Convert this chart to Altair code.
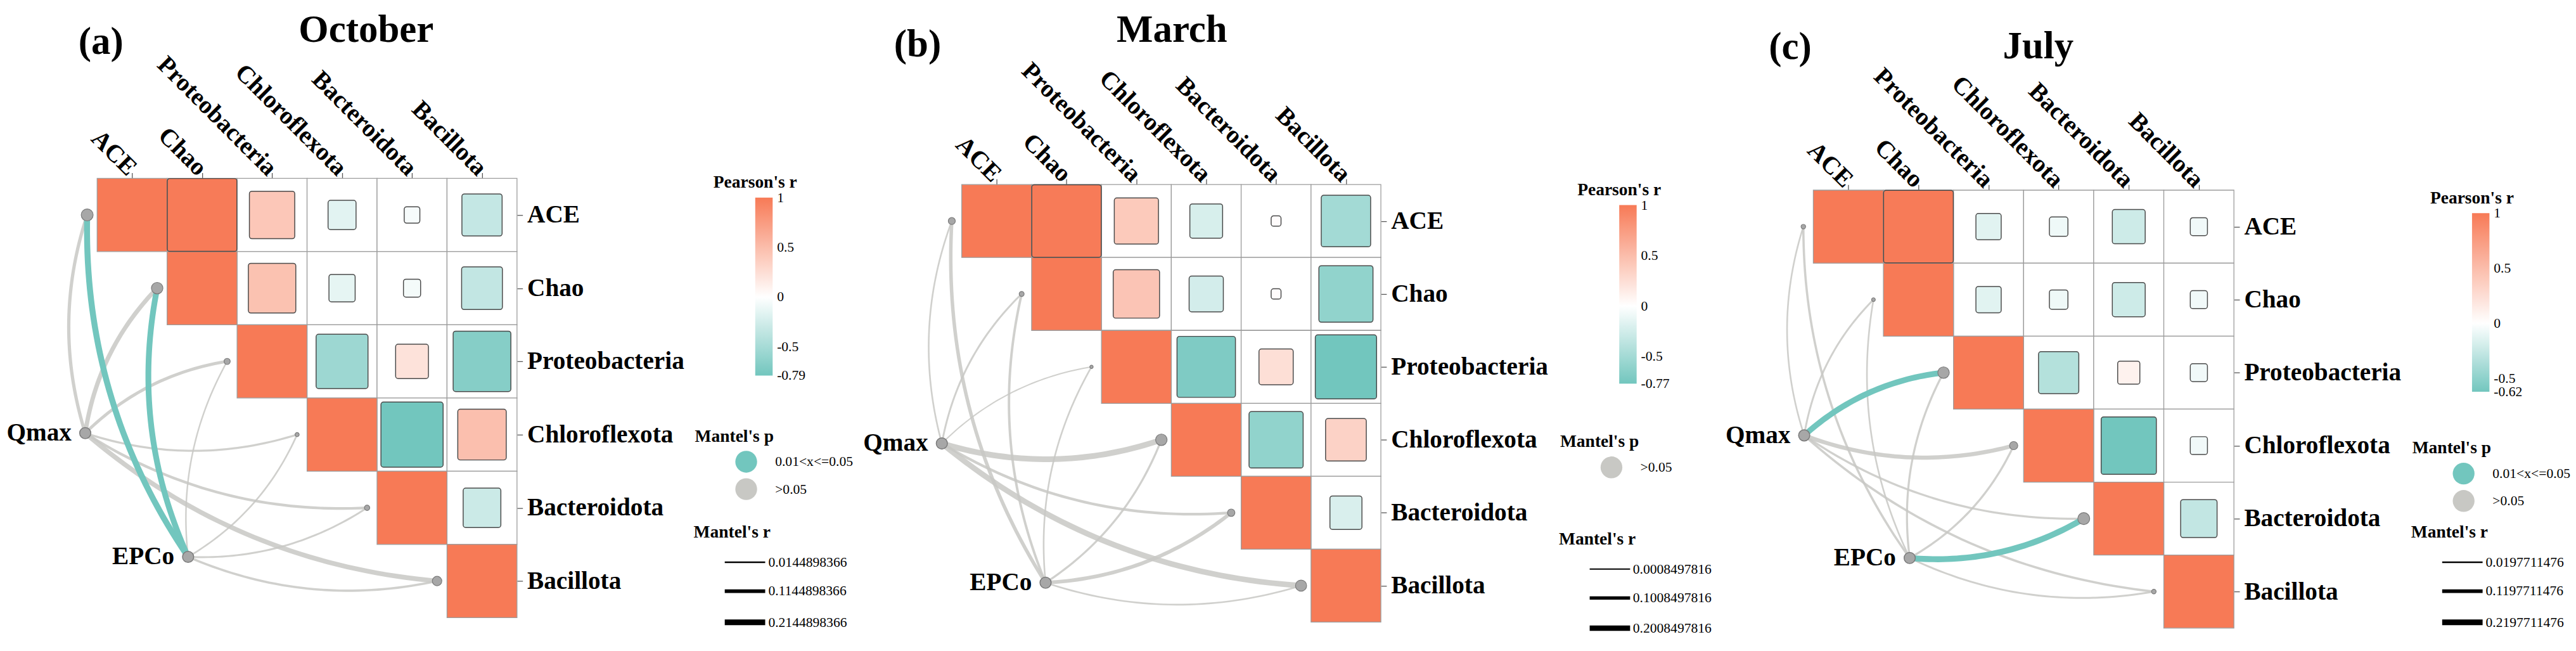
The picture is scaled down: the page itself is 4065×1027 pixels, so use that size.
import altair as alt
import numpy as np
import pandas as pd

# ---------------- data ----------------
taxa = ["ACE", "Chao", "Proteobacteria", "Chloroflexota", "Bacteroidota", "Bacillota"]
env_vars = ["Qmax", "EPCo"]
months = ["October", "March", "July"]
panel_tags = ["(a)", "(b)", "(c)"]
p_levels = ["0.01<x<=0.05", ">0.05"]

# Pearson's r, upper triangle, row i holds r(i, j) for j = i+1 .. 5
pearson_october = [
    [0.99, 0.42, -0.16, -0.05, -0.33],
    [0.46, -0.14, -0.06, -0.34],
    [-0.55, 0.22, -0.68],
    [-0.79, 0.48],
    [-0.29],
]
pearson_march = [
    [0.99, 0.40, -0.22, 0.02, -0.50],
    [0.44, -0.24, 0.02, -0.60],
    [-0.70, 0.24, -0.77],
    [-0.60, 0.34],
    [-0.21],
]
pearson_july = [
    [0.99, -0.13, -0.07, -0.22, -0.06],
    [-0.13, -0.07, -0.22, -0.06],
    [-0.33, 0.10, -0.06],
    [-0.62, -0.06],
    [-0.27],
]

# Mantel's r / p, per environmental variable, order of taxa
mantel_r_october_qmax = [0.10, 0.15, 0.09, 0.04, 0.07, 0.17]
mantel_r_october_epco = [0.23, 0.22, 0.0144898366, 0.02, 0.03, 0.05]
mantel_p_october_qmax = [">0.05", ">0.05", ">0.05", ">0.05", ">0.05", ">0.05"]
mantel_p_october_epco = ["0.01<x<=0.05", "0.01<x<=0.05", ">0.05", ">0.05", ">0.05", ">0.05"]

mantel_r_march_qmax = [0.02, 0.03, 0.0008497816, 0.22, 0.07, 0.21]
mantel_r_march_epco = [0.11, 0.06, 0.02, 0.04, 0.12, 0.02]
mantel_p_march_qmax = [">0.05", ">0.05", ">0.05", ">0.05", ">0.05", ">0.05"]
mantel_p_march_epco = [">0.05", ">0.05", ">0.05", ">0.05", ">0.05", ">0.05"]

mantel_r_july_qmax = [0.02, 0.03, 0.22, 0.14, 0.04, 0.05]
mantel_r_july_epco = [0.05, 0.0197711476, 0.04, 0.04, 0.23, 0.03]
mantel_p_july_qmax = [">0.05", ">0.05", "0.01<x<=0.05", ">0.05", ">0.05", ">0.05"]
mantel_p_july_epco = [">0.05", ">0.05", ">0.05", ">0.05", "0.01<x<=0.05", ">0.05"]

mantel_r_break_base = [0.0144898366, 0.0008497816, 0.0197711476]

PEARSON = [pearson_october, pearson_march, pearson_july]
MANTEL_R = [
    {"Qmax": mantel_r_october_qmax, "EPCo": mantel_r_october_epco},
    {"Qmax": mantel_r_march_qmax, "EPCo": mantel_r_march_epco},
    {"Qmax": mantel_r_july_qmax, "EPCo": mantel_r_july_epco},
]
MANTEL_P = [
    {"Qmax": mantel_p_october_qmax, "EPCo": mantel_p_october_epco},
    {"Qmax": mantel_p_march_qmax, "EPCo": mantel_p_march_epco},
    {"Qmax": mantel_p_july_qmax, "EPCo": mantel_p_july_epco},
]

# ---------------- styles / layout ----------------
SERIF = "Liberation Serif"
TEAL = "#72C6BE"
CORAL = "#F77A56"
GREY_LINE = "#C8C8C4"
GRID = "#9C9C9C"
SQUARE_EDGE = "#4A4A4A"
NODE_FILL = "#A7A7A7"
NODE_EDGE = "#7A7A7A"
SW_DOMAIN = [0, 0.25]
SW_RANGE = [2, 10.25]
NODE_GAP = 16
CURV = 0.16
PEAR_SHIFT = -31

LAYOUT = [
    dict(cw=112.5, ch=117.67, xmin=-1.3156, ymin=0.0, axis_off=0,
         env={"Qmax": (-0.17, 3.48), "EPCo": (1.30, 5.17)},
         title_dx=169, title_dy=52, tag=(154, -219),
         leg_pear=(1170, -7), leg_p=(1109, 401), leg_r=(1107, 555), grad=286),
    dict(cw=112.3, ch=117.2, xmin=-1.4604, ymin=-0.0853, axis_off=-10,
         env={"Qmax": (-0.285, 3.55), "EPCo": (1.20, 5.46)},
         title_dx=83, title_dy=48, tag=(93, -215),
         leg_pear=(1185, 5), leg_p=(1126, 410), leg_r=(1124, 566), grad=287),
    dict(cw=112.7, ch=117.3, xmin=-1.2866, ymin=-0.162, axis_off=-19,
         env={"Qmax": (-0.13, 3.36), "EPCo": (1.375, 5.04)},
         title_dx=96, title_dy=70, tag=(108, -211),
         leg_pear=(1168, 18), leg_p=(1108, 420), leg_r=(1106, 555), grad=287),
]

ticks = [i + 0.5 for i in range(6)]
label_expr = "[" + ",".join("'%s'" % t for t in taxa) + "][floor(datum.value)]"


def sw_of(r):
    return SW_RANGE[0] + (r - SW_DOMAIN[0]) / (SW_DOMAIN[1] - SW_DOMAIN[0]) * (SW_RANGE[1] - SW_RANGE[0])


def curve(a, b, side, n=40):
    a = np.array(a, float)
    b = np.array(b, float)
    d = b - a
    perp = np.array([d[1], -d[0]]) if side == "left" else np.array([-d[1], d[0]])
    c = (a + b) / 2 + CURV * perp
    t = np.linspace(0, 1, n)[:, None]
    return (1 - t) ** 2 * a + 2 * t * (1 - t) * c + t ** 2 * b


def panel(k):
    L = LAYOUT[k]
    cw, ch = L["cw"], L["ch"]
    pear = PEARSON[k]
    rmin = min(min(v) for v in pear)

    cell_rows = []
    for i in range(6):
        for j in range(i, 6):
            r = 1.0 if i == j else pear[i][j - i - 1]
            cell_rows.append({"row": i, "col": j, "x": j, "x2": j + 1, "y": i, "y2": i + 1,
                              "diag": i == j, "r": r})
    cells = pd.DataFrame(cell_rows)

    xs = alt.Scale(domain=[L["xmin"], 6], nice=False, zero=False)
    ys = alt.Scale(domain=[L["ymin"], 6], nice=False, zero=False, reverse=True)
    fill_scale = alt.Scale(domain=[rmin, 0, 1], range=[TEAL, "#FFFFFF", CORAL], interpolate="rgb")
    present = [p for p in p_levels if any(p in v for v in MANTEL_P[k].values())]
    col_scale = alt.Scale(domain=present, range=[TEAL if p == p_levels[0] else GREY_LINE for p in present])
    sw_scale = alt.Scale(domain=SW_DOMAIN, range=SW_RANGE)

    top_axis = alt.Axis(orient="top", values=ticks, labelExpr=label_expr, labelAngle=45,
                        labelAlign="right", labelBaseline="middle", labelFontSize=40, labelFont=SERIF,
                        labelFontWeight="bold", labelColor="black", tickSize=9, tickColor="#555555",
                        tickWidth=1.3, domain=False, grid=False, title=None, labelPadding=2,
                        offset=L["axis_off"], labelOverlap=False, labelFlush=False, labelBound=False,
                        labelLimit=0)
    right_axis = alt.Axis(orient="right", values=ticks, labelExpr=label_expr, labelFontSize=40,
                          labelFont=SERIF, labelFontWeight="bold", labelColor="black", labelAlign="left",
                          labelBaseline="middle", tickSize=9, tickColor="#555555", tickWidth=1.3,
                          domain=False, grid=False, title=None, labelPadding=7, labelOverlap=False,
                          labelFlush=False, labelLimit=0)

    def X(field):
        return alt.X(field, scale=xs, axis=top_axis)

    def Y(field):
        return alt.Y(field, scale=ys, axis=right_axis)

    pear_legend = alt.Legend(
        title="Pearson's r", orient="none", legendX=L["leg_pear"][0] + PEAR_SHIFT, legendY=L["leg_pear"][1],
        direction="vertical", gradientLength=L["grad"], gradientThickness=28, gradientStrokeWidth=0,
        values=[0.999, 0.5, 0, -0.5, rmin + 0.001],
        labelExpr="toString(round(datum.value * 100) / 100)", labelOverlap=False,
        titleFont=SERIF, titleFontSize=28, titleFontWeight="bold", titleColor="black",
        titleAnchor="start", titleAlign="center", titlePadding=10,
        labelFont=SERIF, labelFontSize=22, labelColor="black", labelOffset=7, padding=0)
    p_legend = alt.Legend(
        title="Mantel's p", orient="none", legendX=L["leg_p"][0], legendY=L["leg_p"][1],
        symbolType="circle", symbolSize=1225, symbolOffset=65, labelOffset=29, rowPadding=9,
        titlePadding=9, symbolOpacity=1, symbolStrokeWidth=0,
        titleFont=SERIF, titleFontSize=28, titleFontWeight="bold", titleColor="black",
        titleAnchor="start", titleAlign="left",
        labelFont=SERIF, labelFontSize=22, labelColor="black", padding=0)
    base = mantel_r_break_base[k]
    r_legend = alt.Legend(
        title="Mantel's r", orient="none", legendX=L["leg_r"][0], legendY=L["leg_r"][1],
        values=[base, base + 0.1, base + 0.2], format=".10f",
        symbolType="stroke", symbolSize=4225, symbolOffset=45, labelOffset=0,
        symbolStrokeColor="black", symbolOpacity=1, rowPadding=0, titlePadding=0,
        titleFont=SERIF, titleFontSize=28, titleFontWeight="bold", titleColor="black",
        titleAnchor="start", titleAlign="left",
        labelFont=SERIF, labelFontSize=22, labelColor="black", padding=0)

    # Mantel links
    erows, starts, nodes = [], [], []
    for env in env_vars:
        ex, ey = L["env"][env]
        for i, t in enumerate(taxa):
            tx, ty = i - NODE_GAP / cw, i + 0.5
            side = "left" if i < 3 else "right"
            pts = curve((ex * cw, ey * ch), (tx * cw, ty * ch), side)
            r = MANTEL_R[k][env][i]
            p = MANTEL_P[k][env][i]
            for n, (px, py) in enumerate(pts):
                erows.append({"edge": env + "-" + t, "idx": n, "ex": px / cw, "ey": py / ch, "r": r, "p": p})
            starts.append({"ex": ex, "ey": ey, "p": p})
    edges = pd.DataFrame(erows)
    for i, t in enumerate(taxa):
        rmax = max(MANTEL_R[k][env][i] for env in env_vars)
        nodes.append({"nx": i - NODE_GAP / cw, "ny": i + 0.5, "sz": (2 * sw_of(rmax)) ** 2})
    nodes = pd.DataFrame(nodes)
    envdf = pd.DataFrame({"name": env_vars, "nx": [L["env"][e][0] for e in env_vars],
                          "ny": [L["env"][e][1] for e in env_vars]})

    # legend carrier for Mantel's p (hidden beneath the environment nodes)
    pleg = alt.Chart(pd.DataFrame(starts)).mark_circle(size=40, opacity=1).encode(
        x=X("ex:Q"), y=Y("ey:Q"),
        color=alt.Color("p:N", scale=col_scale, legend=p_legend))
    bg = alt.Chart(cells[~cells["diag"]]).mark_rect(fill="white", stroke=GRID, strokeWidth=1.3).encode(
        x=X("x:Q"), x2="x2:Q", y=Y("y:Q"), y2="y2:Q")
    diag = alt.Chart(cells[cells["diag"]]).mark_rect(stroke=GRID, strokeWidth=1.3).encode(
        x=X("x:Q"), x2="x2:Q", y=Y("y:Q"), y2="y2:Q",
        fill=alt.Fill("r:Q", scale=fill_scale, legend=pear_legend))
    sq = alt.Chart(cells[~cells["diag"]]).transform_calculate(
        s="sqrt(abs(datum.r))",
        sx="datum.col + 0.5 - datum.s / 2", sx2="datum.col + 0.5 + datum.s / 2",
        sy="datum.row + 0.5 - datum.s / 2", sy2="datum.row + 0.5 + datum.s / 2",
    ).mark_rect(stroke=SQUARE_EDGE, strokeWidth=1.5, cornerRadius=4).encode(
        x=X("sx:Q"), x2="sx2:Q", y=Y("sy:Q"), y2="sy2:Q",
        fill=alt.Fill("r:Q", scale=fill_scale, legend=None))

    def link_layer(df, legend, opacity):
        return alt.Chart(df).mark_line(opacity=opacity).encode(
            x=X("ex:Q"), y=Y("ey:Q"),
            detail="edge:N", order="idx:Q",
            color=alt.Color("p:N", scale=col_scale, legend=None),
            strokeWidth=alt.StrokeWidth("r:Q", scale=sw_scale, legend=legend))

    layers = [pleg, bg, diag, sq, link_layer(edges[edges["p"] == p_levels[1]], r_legend, 0.85)]
    teal_edges = edges[edges["p"] == p_levels[0]]
    if len(teal_edges):
        layers.append(link_layer(teal_edges, None, 1.0))
    layers.append(alt.Chart(nodes).mark_circle(fill=NODE_FILL, stroke=NODE_EDGE, strokeWidth=1.2,
                                               opacity=1).encode(
        x=X("nx:Q"), y=Y("ny:Q"), size=alt.Size("sz:Q", scale=None, legend=None)))
    layers.append(alt.Chart(envdf).mark_circle(size=324, fill=NODE_FILL, stroke=NODE_EDGE,
                                               strokeWidth=1.5, opacity=1).encode(
        x=X("nx:Q"), y=Y("ny:Q")))
    layers.append(alt.Chart(envdf).mark_text(font=SERIF, fontSize=40, fontWeight="bold", color="black",
                                             align="right", baseline="middle", dx=-22).encode(
        x=X("nx:Q"), y=Y("ny:Q"), text="name:N"))
    layers.append(alt.Chart(pd.DataFrame({"t": [panel_tags[k]]})).mark_text(
        font=SERIF, fontSize=62, fontWeight="bold", color="black", align="center", baseline="middle").encode(
        text="t:N", x=alt.value(L["tag"][0]), y=alt.value(L["tag"][1])))

    width = (6 - L["xmin"]) * cw
    height = (6 - L["ymin"]) * ch
    return alt.layer(*layers).properties(
        width=width, height=height,
        title=alt.TitleParams(text=months[k], anchor="middle", frame="group", dx=L["title_dx"],
                              dy=L["title_dy"], fontSize=62, font=SERIF, fontWeight="bold",
                              color="black", offset=8))


chart = alt.hconcat(*[panel(k) for k in range(3)], spacing=550, bounds="flush").resolve_scale(
    x="independent", y="independent", fill="independent", color="independent",
    strokeWidth="independent", size="independent"
).resolve_legend(fill="independent", color="independent", strokeWidth="independent").configure_view(
    stroke=None
).properties(padding={"left": 0, "top": 0, "right": 0, "bottom": 0}, background="white")

chart.save("out.html", embed_options={"renderer": "svg", "actions": False})
